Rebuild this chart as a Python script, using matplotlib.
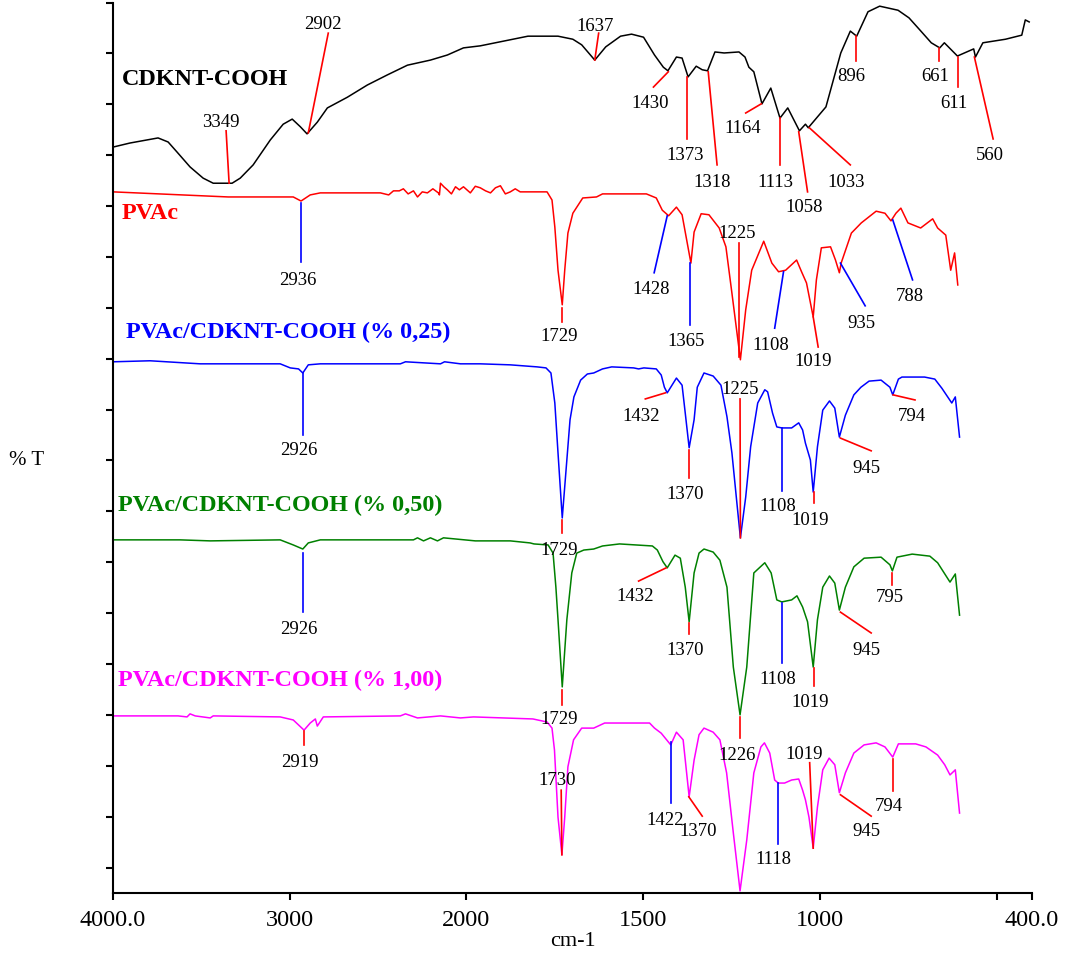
import numpy as np
import matplotlib
matplotlib.use('Agg')
import matplotlib.pyplot as plt

plt.rcParams['font.family'] = ['Liberation Serif', 'DejaVu Serif']

# spectra: wavenumber (cm-1) and stacked %T (arbitrary offset units)
cdknt_wn = [4000, 3904, 3745, 3688, 3637, 3564, 3490, 3433, 3326, 3280, 3207, 3110, 3037, 2986, 2940, 2902,
            2844, 2787, 2674, 2561, 2447, 2334, 2204, 2108, 2017, 1961, 1826, 1741, 1699, 1674, 1637, 1606,
            1564, 1533, 1499, 1468, 1443, 1430, 1406, 1390, 1373, 1350, 1333, 1318, 1297, 1271, 1229, 1212,
            1201, 1187, 1164, 1139, 1113, 1091, 1058, 1041, 1033, 983, 941, 914, 896, 864, 831, 779, 748,
            717, 685, 661, 648, 611, 565, 560, 539, 475, 429, 419, 408]
cdknt_t = [146.6, 147.4, 148.4, 147.6, 145.6, 142.7, 140.5, 139.5, 139.5, 140.5, 143.1, 148.0, 151.1, 152.1,
           150.6, 149.2, 151.5, 154.3, 156.4, 158.8, 160.8, 162.7, 163.7, 164.7, 166.1, 166.5, 168.4, 168.4,
           167.8, 166.7, 163.7, 166.3, 168.4, 168.8, 168.2, 164.7, 162.3, 161.6, 164.3, 164.1, 160.4, 162.5,
           161.8, 161.6, 165.3, 165.1, 165.3, 164.3, 162.3, 161.4, 155.1, 158.2, 152.3, 154.3, 149.8, 151.1,
           150.4, 154.5, 165.1, 169.4, 168.4, 173.2, 174.3, 173.5, 172.0, 169.6, 167.1, 166.1, 167.1, 164.5,
           165.9, 164.3, 167.1, 167.8, 168.6, 171.6, 171.2]

pvac_wn = [4000, 3348, 2980, 2936, 2884, 2827, 2487, 2440, 2413, 2380, 2357, 2330, 2300, 2277, 2250, 2221,
           2190, 2159, 2153, 2147, 2128, 2108, 2085, 2062, 2040, 2017, 1989, 1975, 1961, 1946, 1932, 1918,
           1904, 1890, 1876, 1862, 1848, 1772, 1758, 1750, 1741, 1729, 1722, 1713, 1699, 1671,
           1632, 1615, 1491, 1463, 1446, 1428, 1406, 1390, 1365, 1356, 1336, 1314, 1285, 1266, 1249, 1225,
           1210, 1193, 1159, 1136, 1117, 1097, 1066, 1052, 1038, 1019, 1010, 996, 970, 956, 945, 940, 911,
           883, 841, 816, 799, 785, 771, 751, 715, 681, 667, 644, 630, 619, 610]
pvac_t = [137.8, 136.8, 136.8, 136.0, 137.2, 137.6, 137.6, 137.2, 138.0, 138.0, 138.4, 137.4, 138.0, 136.8,
          137.8, 137.6, 138.4, 137.6, 137.2, 139.5, 138.8, 138.2, 137.4, 138.8, 138.2, 138.8, 137.6, 138.9,
          138.6, 138.0, 137.6, 138.6, 139.0, 137.4, 137.8, 138.4, 137.8, 137.8, 136.2, 130.9, 122.4, 115.6,
          122.4, 129.7, 133.6, 136.6, 136.8, 137.4, 137.4, 136.6, 134.2, 133.1, 134.8, 133.3, 123.8, 129.9,
          133.5, 133.3, 130.7, 127.0, 117.9, 104.8, 114.6, 122.4, 128.1, 123.8, 122.1, 122.4, 124.4, 122.1,
          119.9, 113.2, 120.5, 126.8, 127.0, 124.4, 121.9, 123.8, 129.7, 131.7, 134.0, 133.6, 132.1, 133.6,
          134.6, 131.7, 130.7, 132.5, 130.7, 129.3, 122.4, 125.8, 119.5]

c025_wn = [4000, 3790, 3507, 3054, 2997, 2950, 2926, 2895, 2827, 2374, 2345, 2147, 2124, 2034, 1961, 1876,
           1800, 1775, 1761, 1750, 1741, 1729, 1716, 1707, 1696, 1677, 1658, 1640, 1615, 1589, 1527, 1513,
           1498, 1463, 1449, 1440, 1432, 1406, 1390, 1381, 1370, 1356, 1347, 1328, 1302, 1280, 1263, 1249,
           1235, 1225, 1210, 1196, 1176, 1156, 1148, 1134, 1122, 1108, 1080, 1060, 1049, 1041, 1027, 1019,
           1007, 992, 973, 958, 945, 928, 904, 884, 861, 827, 802, 794, 778, 768, 704, 675, 655, 627, 617, 605]
c025_t = [104.4, 104.6, 104.0, 104.0, 103.2, 103.0, 102.2, 103.8, 104.0, 104.0, 104.4, 104.0, 104.4, 104.0,
          104.0, 103.8, 103.4, 103.2, 102.2, 96.3, 86.5, 73.7, 85.1, 93.0, 97.5, 100.8, 102.0, 102.2, 103.0,
          103.4, 103.2, 103.0, 103.2, 103.0, 101.8, 99.4, 98.3, 101.2, 99.8, 94.3, 87.5, 93.0, 99.4, 102.2,
          101.6, 99.8, 93.6, 86.5, 76.7, 69.8, 77.8, 87.7, 96.3, 98.9, 98.5, 94.3, 91.6, 91.4, 91.4, 92.4,
          91.0, 88.4, 85.1, 78.8, 87.7, 94.9, 96.7, 95.3, 89.6, 93.9, 97.9, 99.4, 100.6, 100.8, 99.4, 97.9,
          101.0, 101.4, 101.4, 101.0, 99.2, 96.3, 97.5, 89.6]

c050_wn = [4000, 3620, 3450, 3054, 2980, 2926, 2895, 2827, 2300, 2277, 2243, 2204, 2164, 2130, 1975, 1876,
           1820, 1809, 1769, 1755, 1747, 1741, 1729, 1716, 1702, 1688, 1668, 1640, 1615, 1567, 1474, 1460,
           1444, 1432, 1410, 1395, 1381, 1370, 1356, 1342, 1328, 1302, 1283, 1263, 1245, 1226, 1207, 1187,
           1156, 1138, 1122, 1108, 1080, 1065, 1049, 1035, 1019, 1007, 992, 973, 958, 945, 928, 904, 875,
           827, 802, 795, 782, 739, 689, 667, 632, 617, 605]
c050_t = [69.4, 69.4, 69.2, 69.4, 68.4, 67.6, 68.8, 69.4, 69.4, 69.8, 69.2, 69.8, 69.2, 69.8, 69.2, 69.2,
          68.8, 68.6, 68.4, 66.8, 60.1, 53.7, 40.5, 53.7, 62.9, 66.8, 67.4, 67.6, 68.2, 68.6, 68.2, 67.4,
          65.1, 63.9, 66.4, 65.8, 60.1, 53.3, 62.9, 66.8, 67.6, 67.0, 65.4, 60.1, 44.4, 35.0, 44.4, 62.9,
          64.9, 62.9, 57.6, 57.2, 57.6, 58.4, 56.2, 53.3, 44.4, 53.7, 60.1, 62.3, 60.9, 55.6, 60.1, 64.1,
          65.8, 66.0, 64.5, 63.3, 66.0, 66.6, 66.2, 64.9, 61.1, 62.7, 54.6]

c100_wn = [4000, 3632, 3581, 3564, 3535, 3450, 3433, 3054, 2980, 2919, 2884, 2855, 2844, 2810, 2374, 2345,
           2277, 2147, 2034, 1980, 1896, 1812, 1772, 1758, 1751, 1741, 1730, 1722, 1713, 1697, 1674, 1640,
           1609, 1482, 1468, 1449, 1422, 1406, 1387, 1370, 1356, 1342, 1328, 1302, 1283, 1264, 1245, 1226,
           1207, 1187, 1167, 1157, 1142, 1128, 1118, 1100, 1080, 1060, 1049, 1041, 1031, 1019, 1007, 992,
           974, 958, 945, 928, 904, 875, 841, 816, 794, 778, 729, 700, 667, 647, 632, 617, 605]
c100_t = [34.8, 34.8, 34.6, 35.2, 34.8, 34.4, 34.8, 34.6, 34.0, 32.0, 33.4, 34.2, 32.8, 34.6, 34.8, 35.2,
          34.4, 34.8, 34.4, 34.6, 34.4, 34.2, 33.6, 32.4, 28.1, 14.9, 7.5, 14.9, 24.8, 30.1, 32.4, 32.4,
          33.4, 33.4, 32.4, 31.4, 29.1, 31.6, 30.1, 18.9, 26.1, 31.1, 32.4, 31.6, 30.1, 23.6, 11.8, 0.4,
          10.4, 23.6, 28.7, 29.5, 27.5, 22.2, 21.6, 21.6, 22.2, 22.4, 20.2, 18.3, 14.9, 8.8, 16.9, 24.2,
          26.5, 25.2, 19.7, 23.6, 27.5, 29.1, 29.5, 28.7, 26.7, 29.3, 29.3, 28.7, 27.1, 25.2, 23.2, 24.2, 15.7]

# peak marks: (text, wn0, t0, wn1, t1, line colour, text wn, text t)
cdknt_peaks = [
    ('3349', 3360, 149.8, 3343, 139.5, 'red', 3388, 151.5),
    ('2902', 2782, 169.0, 2895, 149.4, 'red', 2810, 170.6),
    ('1637', 1626, 169.0, 1637, 163.7, 'red', 1637, 170.4),
    ('1430', 1429, 161.4, 1471, 158.4, 'red', 1480, 155.1),
    ('1373', 1376, 160.4, 1376, 148.2, 'red', 1380, 145.0),
    ('1318', 1316, 161.4, 1291, 143.1, 'red', 1305, 139.7),
    ('1164', 1166, 155.1, 1210, 153.3, 'red', 1218, 150.2),
    ('1113', 1114, 152.3, 1114, 143.1, 'red', 1125, 139.7),
    ('1058', 1060, 149.6, 1035, 137.8, 'red', 1046, 134.8),
    ('1033', 1030, 150.4, 914, 143.1, 'red', 925, 139.7),
    ('896', 897, 168.4, 897, 163.5, 'red', 910, 160.4),
    ('661', 664, 166.1, 664, 163.5, 'red', 674, 160.4),
    ('611', 610, 164.3, 610, 158.4, 'red', 622, 155.1),
    ('560', 563, 164.3, 510, 148.2, 'red', 520, 145.0),
]
pvac_peaks = [
    ('2936', 2935, 135.6, 2935, 124.0, 'blue', 2952, 120.3),
    ('1729', 1729, 115.0, 1729, 112.2, 'red', 1738, 109.3),
    ('1428', 1432, 133.1, 1469, 121.9, 'blue', 1477, 118.7),
    ('1365', 1367, 123.8, 1367, 111.6, 'blue', 1378, 108.3),
    ('1225', 1228, 127.8, 1228, 105.3, 'red', 1235, 129.7),
    ('1108', 1103, 122.1, 1128, 111.0, 'blue', 1139, 107.7),
    ('1019', 1019, 113.2, 1005, 107.3, 'red', 1018, 104.4),
    ('935', 942, 123.8, 872, 115.4, 'blue', 883, 112.0),
    ('788', 794, 132.3, 738, 120.5, 'blue', 745, 117.3),
]
c025_peaks = [
    ('2926', 2926, 102.2, 2926, 90.0, 'blue', 2946, 86.9),
    ('1729', 1729, 73.3, 1729, 70.8, 'red', 1738, 67.4),
    ('1432', 1437, 98.3, 1494, 97.1, 'red', 1505, 93.6),
    ('1370', 1370, 87.1, 1370, 81.6, 'red', 1381, 78.4),
    ('1225', 1226, 97.1, 1225, 69.8, 'red', 1226, 98.9),
    ('1108', 1108, 91.4, 1108, 79.0, 'blue', 1120, 75.9),
    ('1019', 1018, 78.8, 1018, 76.7, 'red', 1029, 73.3),
    ('945', 942, 89.4, 855, 86.9, 'red', 869, 83.5),
    ('794', 793, 97.9, 731, 96.9, 'red', 740, 93.6),
]
c050_peaks = [
    ('2926', 2926, 66.8, 2926, 55.2, 'blue', 2946, 51.7),
    ('1729', 1729, 39.9, 1729, 36.9, 'red', 1738, 34.0),
    ('1432', 1435, 63.9, 1513, 61.3, 'red', 1524, 58.2),
    ('1370', 1370, 53.1, 1370, 50.9, 'red', 1381, 47.6),
    ('1226', 1226, 34.6, 1226, 30.5, 'red', 1235, 27.1),
    ('1108', 1108, 57.0, 1108, 45.2, 'blue', 1120, 41.9),
    ('1019', 1018, 44.2, 1018, 40.7, 'red', 1029, 37.5),
    ('945', 942, 55.2, 855, 51.1, 'red', 869, 47.6),
    ('795', 795, 62.9, 795, 60.6, 'red', 802, 58.0),
]
c100_peaks = [
    ('2919', 2919, 31.8, 2919, 29.1, 'red', 2940, 25.6),
    ('1730', 1732, 20.2, 1730, 7.5, 'red', 1744, 22.2),
    ('1422', 1422, 29.7, 1422, 17.7, 'blue', 1437, 14.3),
    ('1370', 1371, 18.9, 1333, 15.1, 'red', 1345, 12.0),
    ('1118', 1118, 21.6, 1118, 9.6, 'blue', 1131, 6.5),
    ('1019', 1029, 25.6, 1019, 8.8, 'red', 1044, 27.3),
    ('945', 942, 19.3, 855, 15.1, 'red', 869, 12.0),
    ('794', 794, 26.3, 794, 20.0, 'red', 805, 16.9),
]

names = ['CDKNT-COOH', 'PVAc', 'PVAc/CDKNT-COOH (% 0,25)', 'PVAc/CDKNT-COOH (% 0,50)',
         'PVAc/CDKNT-COOH (% 1,00)']
colors = ['black', 'red', 'blue', 'green', 'magenta']
name_wn = [3949, 3949, 3926, 3972, 3972]
name_t = [159.8, 133.6, 110.1, 76.1, 41.7]

xticks = [4000, 3000, 2000, 1500, 1000, 500, 400]
xticklabels = ['4000.0', '3000', '2000', '1500', '1000', '', '400.0']


# x axis is stretched 2x below 2000 cm-1
def fwd(w):
    w = np.asarray(w, dtype=float)
    return np.where(w >= 2000, w, 2 * w - 2000)


def inv(v):
    v = np.asarray(v, dtype=float)
    return np.where(v >= 2000, v, (v + 2000) / 2)


fig = plt.figure(figsize=(10.68, 9.64), dpi=100)
ax = fig.add_axes([0.1058, 0.0737, 0.8605, 0.9236])
ax.set_xscale('function', functions=(fwd, inv))

spectra = [(cdknt_wn, cdknt_t, cdknt_peaks), (pvac_wn, pvac_t, pvac_peaks),
           (c025_wn, c025_t, c025_peaks), (c050_wn, c050_t, c050_peaks),
           (c100_wn, c100_t, c100_peaks)]

for (wn, t, peaks), col, name, nx, ny in zip(spectra, colors, names, name_wn, name_t):
    ax.plot(wn, t, color=col, lw=1.1)
    for lab, x0, y0, x1, y1, lc, tx, ty in peaks:
        ax.plot([x0, x1], [y0, y1], color=lc, lw=1.2)
        ax.text(tx, ty, lab, ha='center', va='center', fontsize=13.5, color='black')
    ax.text(nx, ny, name, ha='left', va='center', fontsize=17.4, fontweight='bold', color=col)

ax.set_xlim(4000, 400)
ax.set_ylim(0, 175)
ax.set_xticks(xticks)
ax.set_xticklabels(xticklabels)
ax.set_yticks(np.arange(5, 176, 10))
ax.set_yticklabels([])
ax.minorticks_off()

for s in ['top', 'right']:
    ax.spines[s].set_visible(False)
for s in ['left', 'bottom']:
    ax.spines[s].set_linewidth(1.5)
ax.tick_params(direction='out', length=5, width=1.5, labelsize=17.5, pad=7)

ax.set_xlabel('cm-1', fontsize=16, labelpad=1)
fig.text(0.025, 0.522, '% T', fontsize=15, ha='center', va='center')

fig.savefig('out.png', dpi=100)
